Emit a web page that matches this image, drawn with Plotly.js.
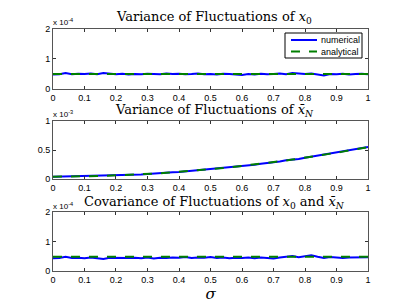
<!DOCTYPE html>
<html><head><meta charset="utf-8">
<script src="https://cdn.plot.ly/plotly-3.0.1.min.js"></script>
<style>html,body{margin:0;padding:0;background:#fff;}#plot{width:407px;height:306px;}</style>
</head><body><div id="plot"></div>
<script>
// sigma grid
const sigma = [0,0.02,0.04,0.06,0.08,0.10,0.12,0.14,0.16,0.18,0.20,0.22,0.24,0.26,0.28,0.30,0.32,0.34,0.36,0.38,0.40,0.42,0.44,0.46,0.48,0.50,0.52,0.54,0.56,0.58,0.60,0.62,0.64,0.66,0.68,0.70,0.72,0.74,0.76,0.78,0.80,0.82,0.84,0.86,0.88,0.90,0.92,0.94,0.96,0.98,1.00];

// Variance of x0 (units 1e-4)
const var0Num = [0.48,0.49,0.53,0.49,0.51,0.50,0.52,0.49,0.53,0.50,0.49,0.51,0.48,0.50,0.49,0.51,0.50,0.49,0.52,0.50,0.51,0.49,0.50,0.52,0.49,0.50,0.48,0.51,0.50,0.49,0.47,0.50,0.48,0.51,0.49,0.50,0.52,0.49,0.53,0.52,0.50,0.52,0.48,0.45,0.50,0.49,0.51,0.48,0.50,0.51,0.49];
const var0Ana = [0.50,0.50,0.50,0.50,0.50,0.50,0.50,0.50,0.50,0.50,0.50,0.50,0.50,0.50,0.50,0.50,0.50,0.50,0.50,0.50,0.50,0.50,0.50,0.50,0.50,0.50,0.50,0.50,0.50,0.50,0.50,0.50,0.50,0.50,0.50,0.50,0.50,0.50,0.50,0.50,0.50,0.50,0.50,0.50,0.50,0.50,0.50,0.50,0.50,0.50,0.50];

// Variance of xbar_N (units 1e-3)
const varNNum = [0.038,0.041,0.040,0.043,0.042,0.046,0.047,0.051,0.052,0.057,0.060,0.066,0.069,0.075,0.079,0.087,0.091,0.100,0.105,0.115,0.121,0.131,0.137,0.149,0.156,0.169,0.176,0.190,0.198,0.213,0.222,0.238,0.247,0.264,0.274,0.292,0.302,0.322,0.332,0.345,0.368,0.386,0.396,0.420,0.432,0.456,0.468,0.494,0.505,0.533,0.550];
const varNAna = [0.040,0.040,0.041,0.042,0.043,0.045,0.047,0.050,0.053,0.057,0.060,0.065,0.069,0.075,0.080,0.086,0.092,0.099,0.106,0.114,0.122,0.130,0.139,0.148,0.158,0.168,0.178,0.189,0.200,0.212,0.224,0.236,0.249,0.262,0.276,0.290,0.304,0.319,0.335,0.350,0.366,0.383,0.400,0.417,0.435,0.453,0.472,0.491,0.510,0.530,0.550];

// Covariance of x0 and xbar_N (units 1e-4)
const covNum = [0.43,0.44,0.48,0.44,0.45,0.43,0.46,0.44,0.41,0.45,0.44,0.43,0.44,0.45,0.43,0.46,0.42,0.45,0.44,0.46,0.45,0.47,0.44,0.46,0.45,0.47,0.44,0.46,0.43,0.45,0.44,0.46,0.43,0.46,0.44,0.42,0.46,0.49,0.51,0.47,0.49,0.53,0.48,0.44,0.47,0.45,0.44,0.46,0.47,0.46,0.47];
const covAna = [0.48,0.48,0.48,0.48,0.48,0.48,0.48,0.48,0.48,0.48,0.48,0.48,0.48,0.48,0.48,0.48,0.48,0.48,0.48,0.48,0.48,0.48,0.48,0.48,0.48,0.48,0.48,0.48,0.48,0.48,0.48,0.48,0.48,0.48,0.48,0.48,0.48,0.48,0.48,0.48,0.48,0.48,0.48,0.48,0.48,0.48,0.48,0.48,0.48,0.48,0.48];

const xTicks = [0,0.1,0.2,0.3,0.4,0.5,0.6,0.7,0.8,0.9,1];
const xTickText = ['0','0.1','0.2','0.3','0.4','0.5','0.6','0.7','0.8','0.9','1'];
const legendLabels = ['numerical','analytical'];

const blue = '#0000ff', green = '#007f00';
function num(y, xa, ya){return {x:sigma,y:y,xaxis:xa,yaxis:ya,mode:'lines',name:legendLabels[0],showlegend:false,line:{color:blue,width:2}};}
function ana(y, xa, ya){return {x:sigma,y:y,xaxis:xa,yaxis:ya,mode:'lines',name:legendLabels[1],showlegend:false,line:{color:green,width:2,dash:'dash'}};}

const data = [
  num(var0Num,'x','y'), ana(var0Ana,'x','y'),
  num(varNNum,'x2','y2'), ana(varNAna,'x2','y2'),
  num(covNum,'x3','y3'), ana(covAna,'x3','y3')
];

const tickFont = {family:'Liberation Sans, Arial, sans-serif',size:9,color:'#000'};
function xax(anchor){return {domain:[0.1302,0.9042],anchor:anchor,range:[0,1],tickvals:xTicks,ticktext:xTickText,ticks:'inside',ticklen:3,tickcolor:'#333',showline:true,linecolor:'#555',linewidth:1,mirror:'ticks',showgrid:false,zeroline:false,tickfont:tickFont,fixedrange:true};}
function yax(anchor,dom,range,tv){return {domain:dom,anchor:anchor,range:range,tickvals:tv,ticktext:tv.map(String),ticks:'inside',ticklen:3,tickcolor:'#333',showline:true,linecolor:'#555',linewidth:1,mirror:'ticks',showgrid:false,zeroline:false,tickfont:tickFont,fixedrange:true};}

const titleFont = {family:'DejaVu Serif, Liberation Serif, serif',size:13,color:'#000'};
const expFont = {family:'Liberation Sans, Arial, sans-serif',size:8,color:'#000'};
const legFont = {family:'Liberation Sans, Arial, sans-serif',size:9,color:'#000'};
const W=407,H=306;
const px=v=>v/W, py=v=>1-v/H;

const layout = {
  width:W,height:H,margin:{l:0,r:0,t:0,b:0},
  paper_bgcolor:'#fff',plot_bgcolor:'#fff',showlegend:false,
  xaxis:xax('y'), yaxis:yax('x',[0.7092,0.9052],[0,2],[0,1,2]),
  xaxis2:xax('y2'), yaxis2:yax('x2',[0.415,0.6046],[0,1],[0,0.5,1]),
  xaxis3:Object.assign(xax('y3'),{title:{text:'<i>σ</i>',font:{family:'DejaVu Serif, Liberation Serif, serif',size:15,color:'#000'},standoff:1}}),
  yaxis3:yax('x3',[0.1144,0.3072],[0,2],[0,1,2]),
  shapes:[
    {type:'rect',xref:'paper',yref:'paper',x0:px(285),x1:px(362),y0:py(33),y1:py(58),line:{color:'#000',width:1},fillcolor:'#fff',layer:'above'},
    {type:'line',xref:'paper',yref:'paper',x0:px(291),x1:px(317),y0:py(40),y1:py(40),line:{color:blue,width:2},layer:'above'},
    {type:'line',xref:'paper',yref:'paper',x0:px(291),x1:px(317),y0:py(51.5),y1:py(51.5),line:{color:green,width:2,dash:'dash'},layer:'above'}
  ],
  annotations:[
    {text:'Variance of Fluctuations of <i>x</i><sub>0</sub>',xref:'paper',yref:'paper',x:0.527,y:py(17),xanchor:'center',yanchor:'middle',showarrow:false,font:titleFont},
    {text:'Variance of Fluctuations of <i>x̄</i><sub><i>N</i></sub>',xref:'paper',yref:'paper',x:0.527,y:py(110),xanchor:'center',yanchor:'middle',showarrow:false,font:titleFont},
    {text:'Covariance of Fluctuations of <i>x</i><sub>0</sub> and <i>x̄</i><sub><i>N</i></sub>',xref:'paper',yref:'paper',x:0.527,y:py(202),xanchor:'center',yanchor:'middle',showarrow:false,font:titleFont},
    {text:'x 10<sup>-4</sup>',xref:'paper',yref:'paper',x:px(51),y:py(22),xanchor:'left',yanchor:'middle',showarrow:false,font:expFont},
    {text:'x 10<sup>-3</sup>',xref:'paper',yref:'paper',x:px(51),y:py(114),xanchor:'left',yanchor:'middle',showarrow:false,font:expFont},
    {text:'x 10<sup>-4</sup>',xref:'paper',yref:'paper',x:px(51),y:py(206),xanchor:'left',yanchor:'middle',showarrow:false,font:expFont},
    {text:legendLabels[0],xref:'paper',yref:'paper',x:px(319),y:py(40),xanchor:'left',yanchor:'middle',showarrow:false,font:legFont},
    {text:legendLabels[1],xref:'paper',yref:'paper',x:px(319),y:py(51.5),xanchor:'left',yanchor:'middle',showarrow:false,font:legFont}
  ]
};
Plotly.newPlot('plot',data,layout,{staticPlot:true,displayModeBar:false});
</script></body></html>
